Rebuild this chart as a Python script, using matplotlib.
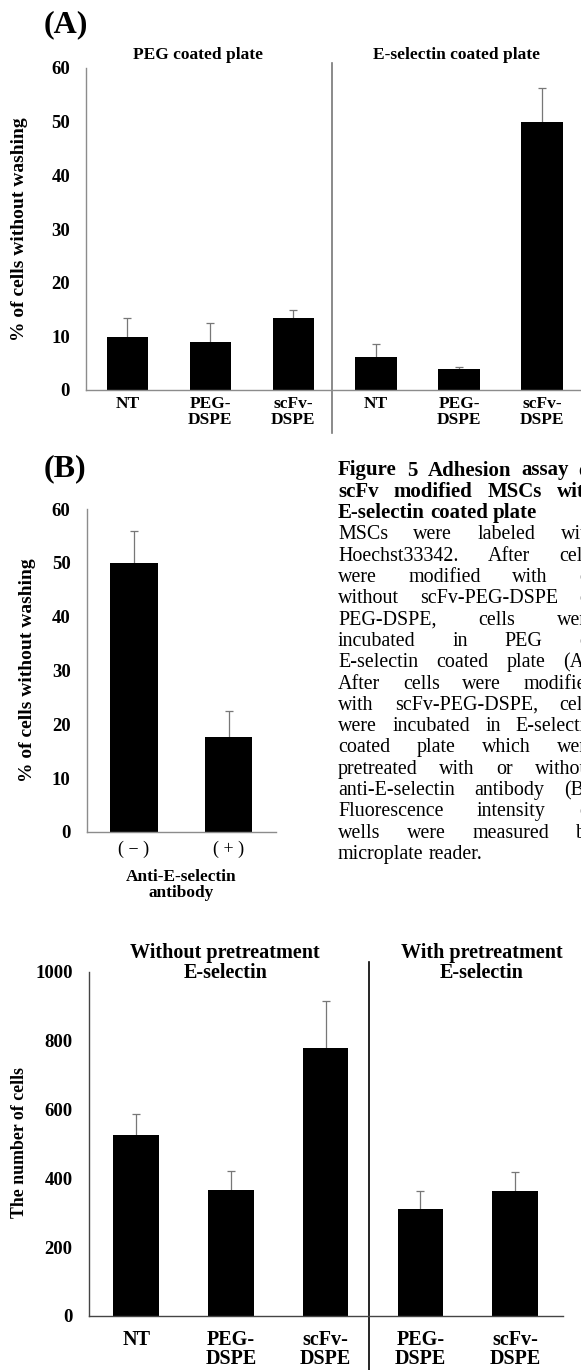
import numpy as np
from matplotlib import pyplot as plt

plt.rcParams['font.family'] = ['Liberation Serif', 'DejaVu Serif']

W, H = 581, 1370

# panel A
a_labels = ["NT", "PEG-\nDSPE", "scFv-\nDSPE", "NT", "PEG-\nDSPE", "scFv-\nDSPE"]
a_values = [9.8, 9.0, 13.5, 6.1, 4.0, 50.0]
a_err = [3.7, 3.4, 1.5, 2.4, 0.2, 6.3]
a_groups = ["PEG coated plate", "E-selectin coated plate"]

# panel B
b_labels = ["( − )", "( + )"]
b_values = [50.0, 17.6]
b_err = [5.9, 4.9]

# panel C
c_labels = ["NT", "PEG-\nDSPE", "scFv-\nDSPE", "PEG-\nDSPE", "scFv-\nDSPE"]
c_values = [526, 365, 777, 311, 362]
c_err = [61, 56, 137, 51, 55]
c_groups = ["Without pretreatment\nE-selectin", "With pretreatment\nE-selectin"]

caption_bold = ["Figure 5 Adhesion assay of",
                "scFv modified MSCs with",
                "E-selectin coated plate"]
caption_body = ["MSCs were labeled with",
                "Hoechst33342. After cells",
                "were modified with or",
                "without scFv-PEG-DSPE or",
                "PEG-DSPE, cells were",
                "incubated in PEG or",
                "E-selectin coated plate (A).",
                "After cells were modified",
                "with scFv-PEG-DSPE, cells",
                "were incubated in E-selectin",
                "coated plate which were",
                "pretreated with or without",
                "anti-E-selectin antibody (B).",
                "Fluorescence intensity of",
                "wells were measured by",
                "microplate reader."]


def px_rect(left, top, right, bottom):
    return [left / W, 1 - bottom / H, (right - left) / W, (bottom - top) / H]


def bars(ax, values, errs, width, spine_color):
    x = np.arange(len(values))
    ax.bar(x, values, width=width, color='black', zorder=2)
    eb = ax.errorbar(x, values, yerr=[np.zeros(len(errs)), errs], fmt='none',
                     ecolor='#777777', elinewidth=0.9, capsize=3, capthick=0.9, zorder=1)
    eb[1][0].set_visible(False)
    ax.set_xlim(-0.5, len(values) - 0.5)
    for s in ['top', 'right']:
        ax.spines[s].set_visible(False)
    for s in ['left', 'bottom']:
        ax.spines[s].set_color(spine_color)
        ax.spines[s].set_linewidth(1.0)
    return x


fig = plt.figure(figsize=(W / 100, H / 100), dpi=100)

# ---- (A)
axA = fig.add_axes(px_rect(86, 68, 583.5, 390))
x = bars(axA, a_values, a_err, 0.5, '#8c8c8c')
axA.set_ylim(0, 60)
axA.set_yticks(np.arange(0, 61, 10))
axA.set_xticks(x)
axA.set_xticklabels(a_labels, fontsize=12.5, fontweight='bold', linespacing=0.95)
axA.tick_params(axis='y', length=0, pad=11.5, labelsize=13.5)
axA.tick_params(axis='x', length=0, pad=4.5)
for t in axA.get_yticklabels():
    t.set_fontweight('bold')
axA.plot([2.47, 2.47], [-8.0, 60.9], color='#777777', lw=1.2, clip_on=False)
axA.text(0.85, 62.4, a_groups[0], ha='center', va='center', fontsize=12.5, fontweight='bold')
axA.text(3.97, 62.4, a_groups[1], ha='center', va='center', fontsize=12.5, fontweight='bold')
fig.text(20 / W, 1 - 229 / H, "% of cells without washing", rotation=90, ha='center', va='center',
         fontsize=14, fontweight='bold')
fig.text(44 / W, 1 - 25 / H, "(A)", ha='left', va='center', fontsize=23, fontweight='bold')

# ---- (B)
axB = fig.add_axes(px_rect(86.5, 509, 276, 832))
x = bars(axB, b_values, b_err, 0.5, '#8c8c8c')
axB.set_ylim(0, 60)
axB.set_yticks(np.arange(0, 61, 10))
axB.set_xticks(x)
axB.set_xticklabels(b_labels, fontsize=13)
axB.tick_params(axis='y', length=0, pad=11.5, labelsize=13.5)
axB.tick_params(axis='x', length=0, pad=6)
for t in axB.get_yticklabels():
    t.set_fontweight('bold')
fig.text(181 / W, 1 - 885 / H, "Anti-E-selectin\nantibody", ha='center', va='center',
         fontsize=12.4, fontweight='bold', linespacing=1.0)
fig.text(28 / W, 1 - 670 / H, "% of cells without washing", rotation=90, ha='center', va='center',
         fontsize=14, fontweight='bold')
fig.text(44 / W, 1 - 469 / H, "(B)", ha='left', va='center', fontsize=23, fontweight='bold')

# ---- (C)
axC = fig.add_axes(px_rect(88.7, 971.5, 562.5, 1316))
x = bars(axC, c_values, c_err, 0.48, '#444444')
axC.set_ylim(0, 1000)
axC.set_yticks(np.arange(0, 1001, 200))
axC.set_xticks(x)
axC.set_xticklabels(c_labels, fontsize=14.5, fontweight='bold', linespacing=0.95)
axC.tick_params(axis='y', length=0, pad=11.5, labelsize=13.5)
axC.tick_params(axis='x', length=0, pad=10)
for t in axC.get_yticklabels():
    t.set_fontweight('bold')
axC.plot([2.46, 2.46], [-160, 1028], color='black', lw=1.2, clip_on=False)
axC.text(0.94, 1025, c_groups[0], ha='center', va='center', fontsize=14.5, fontweight='bold',
         linespacing=1.0)
axC.text(3.65, 1025, c_groups[1], ha='center', va='center', fontsize=14.5, fontweight='bold',
         linespacing=1.0)
fig.text(20 / W, 1 - 1143 / H, "The number of cells", rotation=90, ha='center', va='center',
         fontsize=12.8, fontweight='bold')

# ---- caption, justified text column cut at the right edge (as in the source page)
renderer = fig.canvas.get_renderer()
col_left, col_right = 338, 596
line_step = 21.3
base0 = 475.5


def put_line(words_line, y_px, weight, size, justify):
    words = words_line.split()
    texts = [fig.text(0, 1 - y_px / H, w, fontsize=size, fontweight=weight, va='baseline', ha='left')
             for w in words]
    widths = [t.get_window_extent(renderer).width for t in texts]
    if justify and len(words) > 1:
        gap = (col_right - col_left - sum(widths)) / (len(words) - 1)
    else:
        gap = size * 0.25 * 100 / 72
    xp = col_left
    for t, wd in zip(texts, widths):
        t.set_x(xp / W)
        xp += wd + gap


lines = [(l, 'bold', 15) for l in caption_bold] + [(l, 'normal', 14.4) for l in caption_body]
for i, (l, wt, sz) in enumerate(lines):
    last = (i == len(caption_bold) - 1) or (i == len(lines) - 1)
    put_line(l, base0 + i * line_step, wt, sz, not last)

fig.savefig('out.png', dpi=100)
